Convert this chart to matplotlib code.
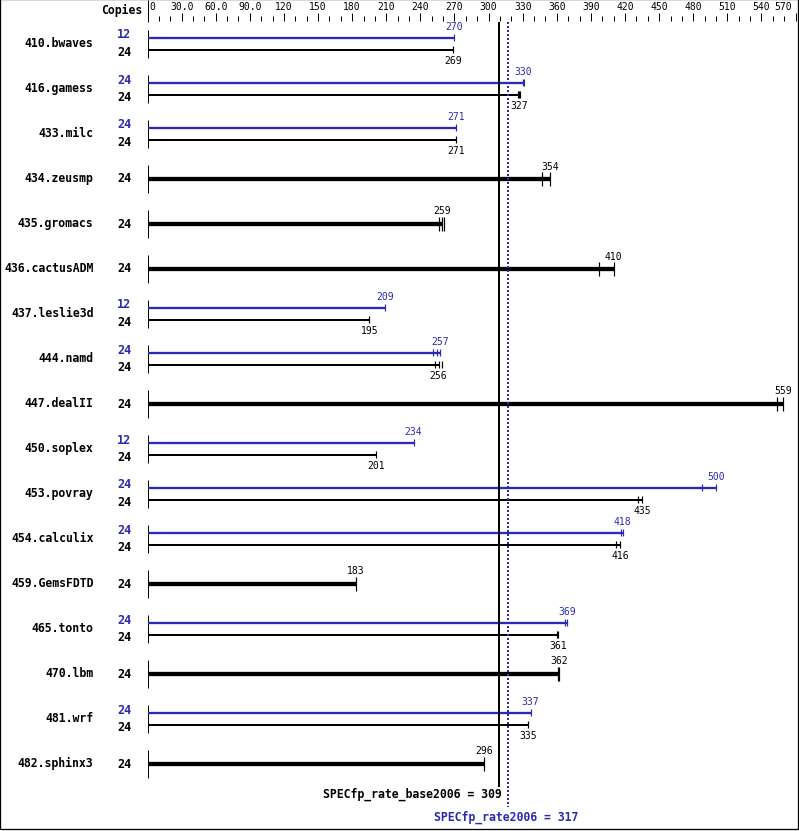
import matplotlib
matplotlib.use("Agg")
from matplotlib import pyplot as plt
from matplotlib.patches import Rectangle

# ################ Data. ################ #
benchmarks = ["410.bwaves", "416.gamess", "433.milc", "434.zeusmp", "435.gromacs",
              "436.cactusADM", "437.leslie3d", "444.namd", "447.dealII", "450.soplex",
              "453.povray", "454.calculix", "459.GemsFDTD", "465.tonto", "470.lbm",
              "481.wrf", "482.sphinx3"]
base_copies = [24, 24, 24, 24, 24, 24, 24, 24, 24, 24, 24, 24, 24, 24, 24, 24, 24]
peak_copies = [12, 24, 24, None, None, None, 12, 24, None, 12, 24, 24, None, 24, None, 24, None]
base_ratio = [269, 327, 271, 354, 259, 410, 195, 256, 559, 201, 435, 416, 183, 361, 362, 335, 296]
peak_ratio = [270, 330, 271, None, None, None, 209, 257, None, 234, 500, 418, None, 369, None, 337, None]
base_runs = [[269], [326, 327, 328], [271], [347, 354], [256, 259, 261], [397, 410], [195],
             [253, 256, 259], [554, 559], [201], [431, 435], [412, 416], [183], [360, 361],
             [361, 362], [335], [296]]
peak_runs = [[270], [330, 331.5], [271], None, None, None, [209], [251, 255, 257], None, [234],
             [488, 500], [416.5, 418], None, [367.5, 369], None, [337], None]
base_mean = 309
peak_mean = 317
tick_values = list(range(0, 571, 10))
tick_labels = {0: "0", 30: "30.0", 60: "60.0", 90: "90.0"}

# ################ Pixel geometry of the original. ################ #
W, H = 799, 831
X0 = 147.5        # pixel of value 0
PX = 1.137        # pixels per unit
ROW0, ROW_STEP = 43.5, 45
BLUE = "#2a2ab4"
MONO = "DejaVu Sans Mono"


def val(px):
    return (px - X0) / PX


def lw(px):
    return px * 0.72


fig = plt.figure(figsize=(W / 100, H / 100), dpi=100)
ax = fig.add_axes([0, 0, 1, 1])
ax.set_xlim(val(0), val(W))
ax.set_ylim(H, 0)
ax.axis("off")

# ################ Header axis. ################ #
ax.vlines(0, 0, 22, color="black", lw=lw(1))
for t in tick_values:
    top = 13 if t % 30 == 0 else 16
    ax.vlines(t, top, 20.5, color="black", lw=lw(1))
    if t % 30 == 0:
        label = tick_labels.get(t, str(t))
        if t == 0:
            ax.text(t + 2 / PX, 7, label, ha="left", va="center", family=MONO, fontsize=7)
        elif t == 570:
            ax.text(t - 3.5 / PX, 7, label, ha="right", va="center", family=MONO, fontsize=7)
        else:
            ax.text(t, 7, label, ha="center", va="center", family=MONO, fontsize=7)
ax.text(val(142), 10, "Copies", ha="right", va="center", family=MONO,
        fontweight="bold", fontsize=8.3)

# ################ Benchmarks. ################ #
for i, name in enumerate(benchmarks):
    yc = ROW0 + ROW_STEP * i
    ax.text(val(93.5), yc, name, ha="right", va="center", family=MONO,
            fontweight="bold", fontsize=8.3)
    ax.vlines(0, yc - 14, yc + 14, color="black", lw=lw(1))
    if peak_ratio[i] is None:
        ax.hlines(yc, 0, base_ratio[i], color="black", lw=lw(4.3))
        for r in base_runs[i]:
            ax.vlines(r, yc - 7, yc + 7, color="black", lw=lw(1.2))
        ax.text(base_ratio[i], yc - 12, str(base_ratio[i]), ha="center", va="center",
                family=MONO, fontsize=7)
        ax.text(val(131.5), yc + 0.5, str(base_copies[i]), ha="right", va="center",
                family=MONO, fontweight="bold", fontsize=8.6)
    else:
        yp, yb = yc - 6, yc + 6
        ax.hlines(yp, 0, peak_ratio[i], color=BLUE, lw=lw(2.3))
        ax.hlines(yb, 0, base_ratio[i], color="black", lw=lw(2))
        for r in peak_runs[i]:
            ax.vlines(r, yp - 3.5, yp + 3.5, color=BLUE, lw=lw(1.2))
        for r in base_runs[i]:
            ax.vlines(r, yb - 3.5, yb + 3.5, color="black", lw=lw(1.2))
        ax.text(peak_ratio[i], yp - 10.5, str(peak_ratio[i]), ha="center", va="center",
                family=MONO, fontsize=7, color=BLUE)
        ax.text(base_ratio[i], yb + 11.5, str(base_ratio[i]), ha="center", va="center",
                family=MONO, fontsize=7)
        ax.text(val(131.5), yc - 8.5, str(peak_copies[i]), ha="right", va="center",
                family=MONO, fontweight="bold", fontsize=8.6, color=BLUE)
        ax.text(val(131.5), yc + 9, str(base_copies[i]), ha="right", va="center",
                family=MONO, fontweight="bold", fontsize=8.6)

# ################ Overall means. ################ #
ax.vlines(base_mean, 22, 786.5, color="black", lw=lw(2))
ax.vlines(peak_mean, 22, 807, color=BLUE, lw=lw(2), linestyles=(0, (1, 1)))
ax.text(base_mean + 3 / PX, 794.5, f"SPECfp_rate_base2006 = {base_mean}", ha="right",
        va="center", family=MONO, fontweight="bold", fontsize=8.3)
ax.text(peak_mean - 2 / PX, 817.5, f"SPECfp_rate2006 = {peak_mean}", ha="center",
        va="center", family=MONO, fontweight="bold", fontsize=8.3, color=BLUE)

# frame round the whole picture
ax.add_patch(Rectangle((0.0006, 0.002), 0.9981, 0.9988, fill=False, lw=lw(1.3),
                       edgecolor="black", transform=ax.transAxes, clip_on=False))

fig.savefig("out.png", dpi=100)
